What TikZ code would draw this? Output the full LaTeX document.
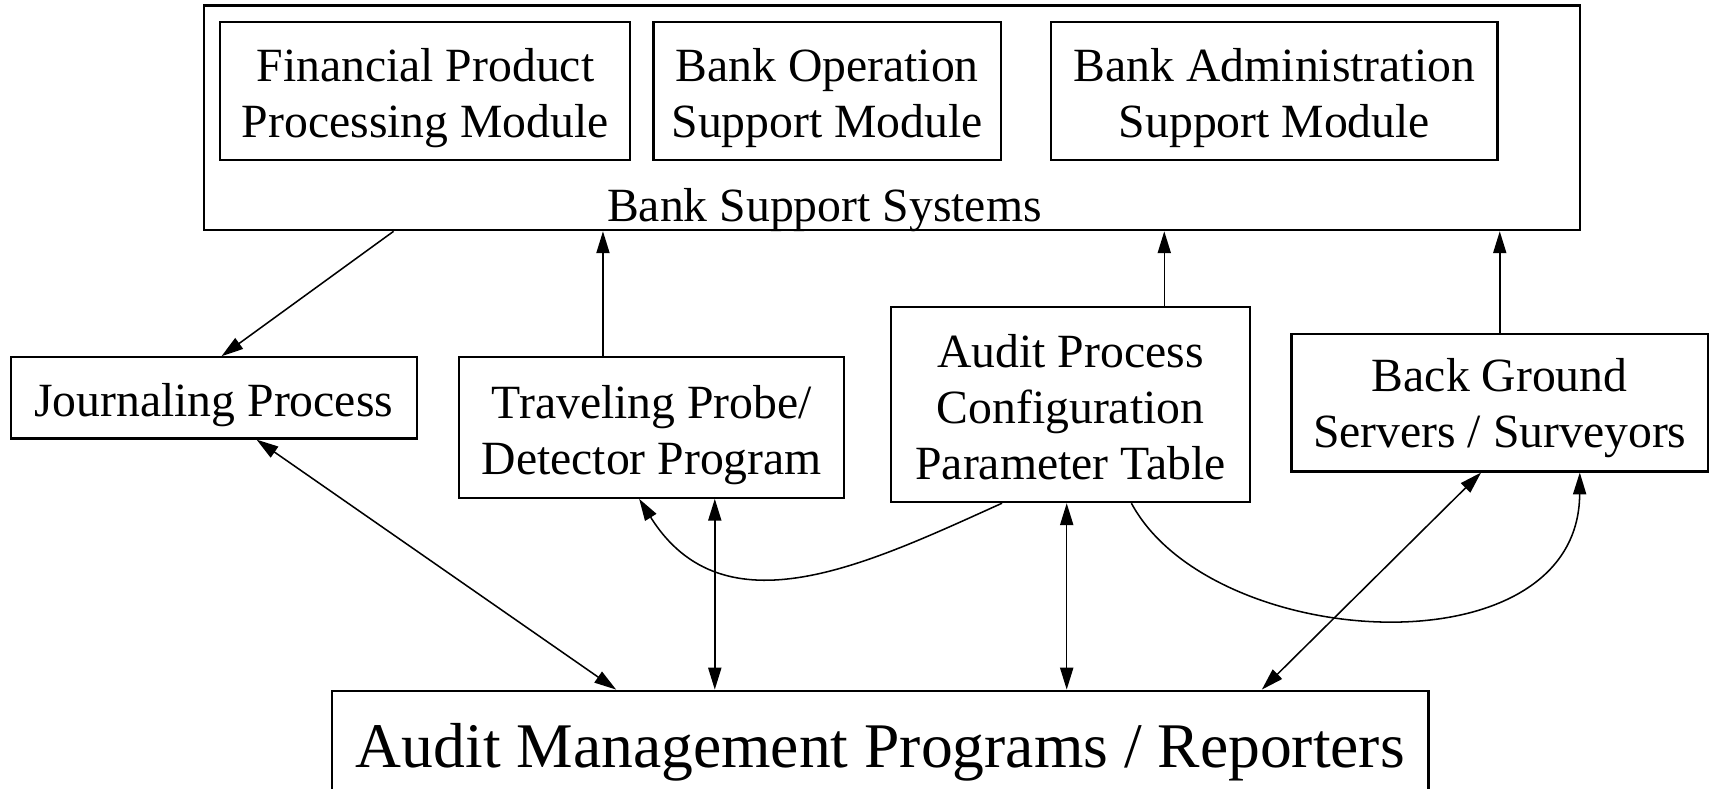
\documentclass[tikz,border=0pt]{standalone}
\usepackage{fontspec}
\setmainfont{Liberation Serif}
\usetikzlibrary{arrows.meta,calc}

% centred lines, ink lowered by #1 while the box keeps its size
\newcommand\droplines[2]{\raisebox{-#1}[\height][\depth]{\begin{tabular}{@{}c@{}}#2\end{tabular}}}

\tikzset{
  box/.style={draw, line width=2pt, rectangle, inner sep=0pt,
              font=\fontsize{43.5}{51}\selectfont},
  link/.style={line width=1.4pt},
  tip/.tip={Triangle[length=20pt,width=12pt]},
}

\begin{document}
\begin{tikzpicture}[x=1pt, y=-1pt]
\useasboundingbox (0,0) rectangle (1568,719);

% bank support systems frame with its three modules
\node[box, minimum width=1255pt, minimum height=205pt] (bss) at (813.5,107.5) {};
\node[font=\fontsize{43.5}{51}\selectfont, inner sep=0pt] (bsslabel) at (752,186) {\droplines{6pt}{Bank Support Systems}};
\node[box, minimum width=374pt, minimum height=126pt] (fpm) at (388,83) {\droplines{7pt}{Financial Product\\Processing Module}};
\node[box, minimum width=317pt, minimum height=126pt] (bom) at (754.5,83) {\droplines{7pt}{Bank Operation\\Support Module}};
\node[box, minimum width=407pt, minimum height=126pt] (bam) at (1162.5,83) {\droplines{7pt}{Bank Administration\\Support Module}};

% middle row
\node[box, minimum width=370pt, minimum height=74pt] (jp) at (195,363) {\droplines{7pt}{Journaling Process}};
\node[box, minimum width=351pt, minimum height=128pt] (tp) at (594.5,390) {\droplines{7pt}{Traveling Probe/\\Detector Program}};
\node[box, minimum width=327pt, minimum height=178pt] (apc) at (976.5,369) {\droplines{7pt}{Audit Process\\Configuration\\Parameter Table}};
\node[box, minimum width=380pt, minimum height=125pt] (bg) at (1368,367.5) {\droplines{5pt}{Back Ground\\Servers / Surveyors}};

% bottom box, running off the lower edge
\node[box, minimum width=1000pt, minimum height=110pt, font=\fontsize{58}{66}\selectfont] (amp) at (803,685)
  {\droplines{2pt}{Audit Management Programs / Reporters}};

% attachment points
\coordinate (bssj) at ([xshift=174]bss.south west);
\coordinate (jpt) at ([xshift=193]jp.north west);
\coordinate (tpt) at ([xshift=-44.5]tp.north);
\coordinate (apct) at ([xshift=85.5]apc.north);
\coordinate (jpb) at ([xshift=225]jp.south west);
\coordinate (ampj) at ([xshift=260]amp.north west);
\coordinate (tpb) at ([xshift=57.5]tp.south);
\coordinate (apcb) at ([xshift=-3.5]apc.south);
\coordinate (bgb) at ([xshift=174]bg.south west);
\coordinate (ampb) at ([xshift=849]amp.north west);
\coordinate (apcl) at ([xshift=102]apc.south west);
\coordinate (tpr) at ([xshift=-188]tp.south east);
\coordinate (apcr) at ([xshift=220]apc.south west);
\coordinate (bgr) at ([xshift=-118]bg.south east);

% connectors to the bank support systems
\draw[link, -tip] (bssj) -- (jpt);
\draw[link, -tip] (tpt) -- (tpt |- bss.south);
\draw[link, -tip] (apct) -- (apct |- bss.south);
\draw[link, -tip] (bg.north) -- (bg.north |- bss.south);

% connectors to the audit management programs
\draw[link, tip-tip] (jpb) -- (ampj);
\draw[link, tip-tip] (tpb) -- (tpb |- amp.north);
\draw[link, tip-tip] (apcb) -- (apcb |- amp.north);
\draw[link, tip-tip] (bgb) -- (ampb);

% configuration table feeding the probe and the servers
\draw[link, -tip] (apcl) .. controls (790,515) and (660,578) .. (tpr);
\draw[link, -tip] (apcr) .. controls (1105,595) and (1440,615) .. (bgr);
\end{tikzpicture}
\end{document}
